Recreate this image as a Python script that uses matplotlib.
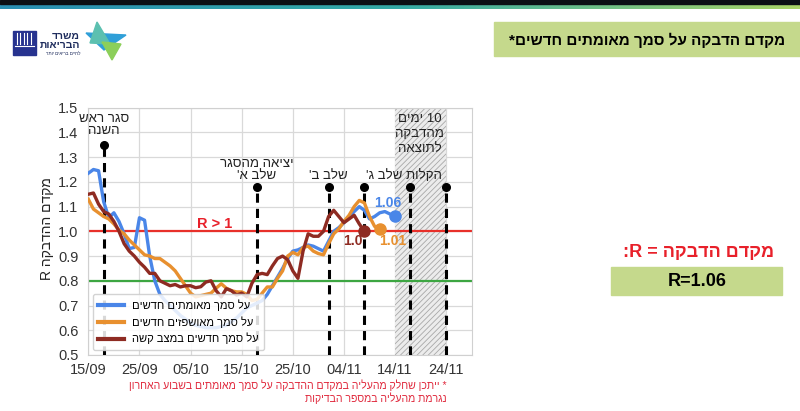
import numpy as np
import pandas as pd
import matplotlib
matplotlib.use("Agg")
import matplotlib.pyplot as plt
import matplotlib.dates as mdates
from matplotlib.patches import Rectangle, Polygon
from matplotlib.colors import LinearSegmentedColormap

plt.rcParams['font.family'] = ['Liberation Sans', 'DejaVu Sans']
plt.rcParams['hatch.linewidth'] = 0.6


def heb(s):
    # matplotlib has no bidi support, so Hebrew is given in visual order
    return s[::-1]


start = pd.Timestamp('2020-09-15')

# R estimates, one value per day from 15/09
r_confirmed = [1.235, 1.25, 1.245, 1.12, 1.055, 1.075, 1.04, 0.99, 0.93, 0.935,
               1.055, 1.045, 0.90, 0.80, 0.745, 0.72, 0.70, 0.68, 0.66, 0.645,
               0.63, 0.62, 0.615, 0.61, 0.61, 0.61, 0.615, 0.62, 0.635, 0.65,
               0.67, 0.69, 0.70, 0.71, 0.72, 0.745, 0.78, 0.815, 0.85, 0.89,
               0.92, 0.925, 0.935, 0.945, 0.94, 0.93, 0.92, 0.96, 1.00, 1.015,
               1.035, 1.06, 1.08, 1.10, 1.085, 1.05, 1.06, 1.075, 1.08, 1.07,
               1.06]
r_hospital = [1.13, 1.09, 1.075, 1.06, 1.05, 1.03, 1.005, 0.99, 0.965, 0.945,
              0.925, 0.905, 0.90, 0.89, 0.89, 0.875, 0.86, 0.84, 0.81, 0.78,
              0.75, 0.735, 0.74, 0.745, 0.75, 0.77, 0.788, 0.77, 0.76, 0.755,
              0.755, 0.745, 0.72, 0.725, 0.75, 0.775, 0.775, 0.81, 0.84, 0.90,
              0.915, 0.905, 0.935, 0.94, 0.92, 0.91, 0.905, 0.95, 0.99, 1.01,
              1.04, 1.065, 1.10, 1.125, 1.115, 1.06, 1.02, 1.01]
r_severe = [1.15, 1.155, 1.11, 1.08, 1.07, 1.04, 1.00, 0.95, 0.92, 0.90,
            0.875, 0.855, 0.83, 0.83, 0.80, 0.79, 0.78, 0.785, 0.775, 0.78,
            0.78, 0.772, 0.776, 0.795, 0.80, 0.76, 0.735, 0.768, 0.76, 0.742,
            0.75, 0.735, 0.79, 0.825, 0.83, 0.825, 0.86, 0.89, 0.90, 0.885,
            0.84, 0.81, 0.92, 0.99, 0.98, 0.98, 1.00, 1.06, 1.085, 1.06,
            1.035, 1.05, 1.065, 1.03, 1.00]

series_labels = ["על סמך מאומתים חדשים", "על סמך מאושפזים חדשים", "על סמך חדשים במצב קשה"]
series_colors = ['#4a86e8', '#e8902f', '#8e2b22']
last_labels = ["1.06", "1.01", "1.0"]

event_dates = ['2020-09-18', '2020-10-18', '2020-11-01', '2020-11-08', '2020-11-17', '2020-11-24']
event_tops = [1.35, 1.18, 1.18, 1.18, 1.18, 1.18]

tick_dates = pd.date_range('2020-09-15', periods=8, freq='10D')
y_ticks = [0.5, 0.6, 0.7, 0.8, 0.9, 1.0, 1.1, 1.2, 1.3, 1.4, 1.5]

fig = plt.figure(figsize=(8, 4.11), dpi=100)

# slide background in pixel coordinates
bg = fig.add_axes([0, 0, 1, 1], zorder=0)
bg.axis('off')

bg.add_patch(Rectangle((0, 0), 800, 4.5, color='#0b0f14'))
grad = LinearSegmentedColormap.from_list('g', ['#2a8fb3', '#34aaa6', '#a9d468'])
bg.imshow(np.linspace(0, 1, 200).reshape(1, -1), cmap=grad, aspect='auto',
          extent=(0, 800, 9, 4.5))

# ministry logo (rough)
bg.add_patch(Rectangle((13, 31), 23, 24, color='#27338f'))
for xx in [16.5, 20, 23.5, 27, 30.5]:
    bg.plot([xx, xx], [33, 44], color='white', lw=0.8)
bg.plot([15, 34], [46, 46], color='white', lw=0.8)
bg.text(80, 36, heb("משרד"), ha='right', va='center', fontsize=7.5, fontweight='bold', color='#1d2b5c')
bg.text(80, 45.5, heb("הבריאות"), ha='right', va='center', fontsize=7.5, fontweight='bold', color='#1d2b5c')
bg.text(80, 53.5, heb("לחיים בריאים יותר"), ha='right', va='center', fontsize=3.3, color='#1d2b5c')
bg.add_patch(Polygon([(86, 33), (126, 35), (104, 50)], color='#2f9fd8'))
bg.add_patch(Polygon([(97, 22), (110, 44), (90, 43)], color='#5cc0b0'))
bg.add_patch(Polygon([(102, 42), (121, 44), (112, 60)], color='#8ccf5a'))

# title box
bg.add_patch(Rectangle((494, 22), 306, 34, color='#c5d98c'))
bg.text(785, 40, heb("מקדם הדבקה על סמך מאומתים חדשים*"), ha='right', va='center',
        fontsize=11, fontweight='bold', color='black')

# R summary on the right
bg.text(699, 252.5, heb("מקדם הדבקה = R:"), ha='center', va='center',
        fontsize=13, fontweight='bold', color='#e8202a')
bg.add_patch(Rectangle((611, 266.5), 171, 28.5, color='#c5d98c'))
bg.text(697, 281.5, "R=1.06", ha='center', va='center', fontsize=13, fontweight='bold', color='black')

# footnote
bg.text(447, 385, heb("* ייתכן שחלק מהעליה במקדם ההדבקה על סמך מאומתים בשבוע האחרון"),
        ha='right', va='center', fontsize=7.6, color='#e0283c')
bg.text(447, 398, heb("נגרמת מהעליה במספר הבדיקות"),
        ha='right', va='center', fontsize=7.6, color='#e0283c')

bg.text(47, 229, heb("מקדם ההדבקה R"), rotation=90, ha='center', va='center', fontsize=10, color='#222222')

bg.set_xlim(0, 800)
bg.set_ylim(411, 0)

# chart
ax = fig.add_axes([0.1104, 0.1363, 0.4793, 0.6017], zorder=1)

ax.axvspan(pd.Timestamp('2020-11-14'), pd.Timestamp('2020-11-24'), facecolor='#ececec',
           edgecolor='#a8a8a8', hatch='//////', lw=0, zorder=1)
ax.axhline(1.0, color='#e8302a', lw=1.6, zorder=2)
ax.axhline(0.8, color='#3da642', lw=1.6, zorder=2)

for d, top in zip(event_dates, event_tops):
    d = pd.Timestamp(d)
    ax.plot([d, d], [0.5, top], color='black', lw=2.2, dashes=(3, 2), zorder=3)
    ax.plot(d, top, 'o', color='black', ms=5.5, zorder=4)

for vals, lab, col in zip([r_confirmed, r_hospital, r_severe], series_labels, series_colors):
    dates = pd.date_range(start, periods=len(vals), freq='D')
    ax.plot(dates, vals, color=col, lw=2.4, label=heb(lab), zorder=5)
    ax.plot(dates[-1], vals[-1], 'o', color=col, ms=8, zorder=6)

ax.text(pd.Timestamp('2020-11-12 14:00'), 1.113, last_labels[0], color=series_colors[0],
        fontsize=10, fontweight='bold', ha='center', va='center', zorder=7)
ax.text(pd.Timestamp('2020-11-13 12:00'), 0.96, last_labels[1], color=series_colors[1],
        fontsize=10, fontweight='bold', ha='center', va='center', zorder=7)
ax.text(pd.Timestamp('2020-11-05 16:00'), 0.96, last_labels[2], color=series_colors[2],
        fontsize=10, fontweight='bold', ha='center', va='center', zorder=7)
ax.text(pd.Timestamp('2020-10-09 16:00'), 1.03, "R > 1", color='#e8202a',
        fontsize=10.5, fontweight='bold', ha='center', va='center', zorder=7)

# event annotations
ax.text(pd.Timestamp('2020-09-18'), 1.383, heb("סגר ראש") + "\n" + heb("השנה"),
        ha='center', va='bottom', fontsize=9.5, linespacing=0.95, color='#222222', zorder=7)
ax.text(pd.Timestamp('2020-10-18'), 1.20, heb("יציאה מהסגר") + "\n" + heb("שלב א'"),
        ha='center', va='bottom', fontsize=9.5, linespacing=0.95, color='#222222', zorder=7)
ax.text(pd.Timestamp('2020-10-31 22:00'), 1.20, heb("שלב ב'"),
        ha='center', va='bottom', fontsize=9.5, color='#222222', zorder=7)
ax.text(pd.Timestamp('2020-11-15 17:00'), 1.20, heb("הקלות שלב ג'"),
        ha='center', va='bottom', fontsize=9.5, color='#222222', zorder=7)
ax.text(pd.Timestamp('2020-11-18 20:00'), 1.31, "םימי 10" + "\n" + heb("מהדבקה") + "\n" + heb("לתוצאה"),
        ha='center', va='bottom', fontsize=9.5, linespacing=1.3, color='#222222', zorder=7)

ax.set_xlim(start, start + pd.Timedelta(days=75))
ax.set_ylim(0.5, 1.5)
ax.set_xticks(tick_dates)
ax.xaxis.set_major_formatter(mdates.DateFormatter('%d/%m'))
ax.set_yticks(y_ticks)
ax.set_yticklabels([f"{v:.1f}" for v in y_ticks])
ax.tick_params(length=0, labelsize=10.5, colors='#333333')
ax.tick_params(axis='x', pad=6)
ax.tick_params(axis='y', pad=7)
ax.grid(True, color='#d9d9d9', lw=0.9)
ax.set_axisbelow(True)
for s in ax.spines.values():
    s.set_color('#d0d0d0')

leg = ax.legend(loc='lower left', bbox_to_anchor=(0.012, 0.02), borderaxespad=0, fontsize=8,
                handlelength=2.3, frameon=True, framealpha=0.85, edgecolor='#cccccc',
                borderpad=0.5, labelspacing=0.45, handletextpad=0.7)
for line in leg.get_lines():
    line.set_linewidth(3)
leg.set_zorder(8)

fig.savefig('out.png', dpi=100, facecolor='white')
